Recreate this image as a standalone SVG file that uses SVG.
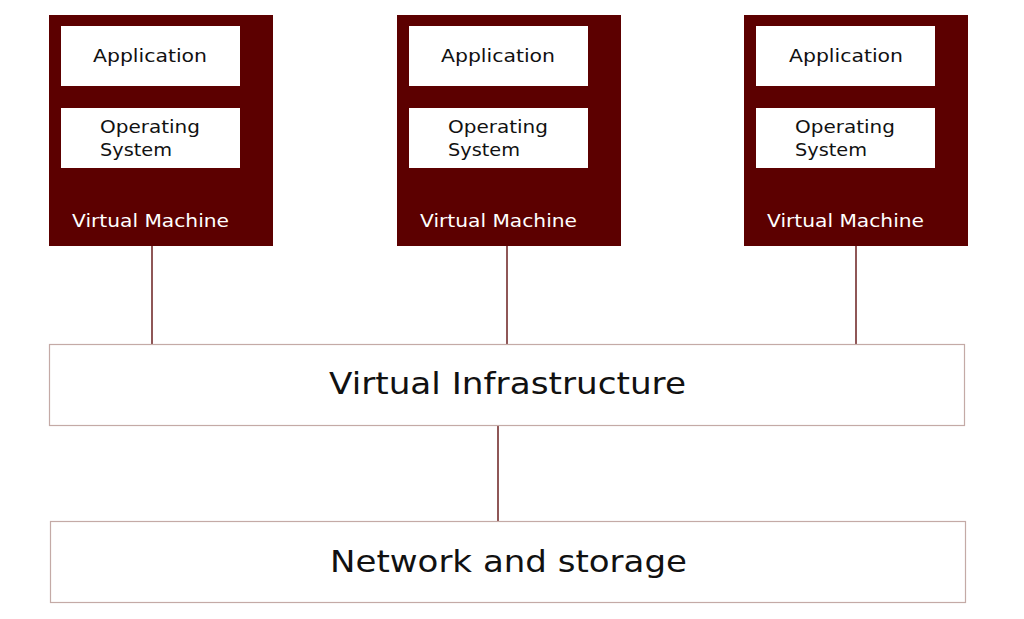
<svg xmlns="http://www.w3.org/2000/svg" width="1024" height="619" viewBox="0 0 1024 619">
<style>
.vm{fill:#5c0000}
.inner{fill:#ffffff}
.lbl{font-family:"DejaVu Sans","Noto Sans",sans-serif;font-size:18px;fill:#111}
.vmlbl{font-family:"DejaVu Sans","Noto Sans",sans-serif;font-size:18px;fill:#ffffff}
.big{fill:#ffffff;stroke:#c4aaa6;stroke-width:1.2}
.bigt{font-family:"DejaVu Sans","Noto Sans",sans-serif;font-size:30px;fill:#111;text-anchor:middle}
.conn{stroke:#6a1f1f;stroke-width:1.5;fill:none}
</style>
<rect width="1024" height="619" fill="#ffffff"/>
<g id="connectors">
<line class="conn" x1="152" y1="246" x2="152" y2="344"/>
<line class="conn" x1="507" y1="246" x2="507" y2="344"/>
<line class="conn" x1="856" y1="246" x2="856" y2="344"/>
<line class="conn" x1="498" y1="425" x2="498" y2="521"/>
</g>
<g id="vm1">
<rect class="vm" x="49" y="15" width="224" height="231"/>
<rect class="inner" x="61" y="26" width="179" height="60"/>
<text class="lbl" x="93" y="62" textLength="114" lengthAdjust="spacingAndGlyphs">Application</text>
<rect class="inner" x="61" y="108" width="179" height="60"/>
<text class="lbl" x="100" y="133" textLength="100" lengthAdjust="spacingAndGlyphs">Operating</text>
<text class="lbl" x="100" y="156" textLength="72" lengthAdjust="spacingAndGlyphs">System</text>
<text class="vmlbl" x="72" y="227" textLength="157" lengthAdjust="spacingAndGlyphs">Virtual Machine</text>
</g>
<g id="vm2">
<rect class="vm" x="397" y="15" width="224" height="231"/>
<rect class="inner" x="409" y="26" width="179" height="60"/>
<text class="lbl" x="441" y="62" textLength="114" lengthAdjust="spacingAndGlyphs">Application</text>
<rect class="inner" x="409" y="108" width="179" height="60"/>
<text class="lbl" x="448" y="133" textLength="100" lengthAdjust="spacingAndGlyphs">Operating</text>
<text class="lbl" x="448" y="156" textLength="72" lengthAdjust="spacingAndGlyphs">System</text>
<text class="vmlbl" x="420" y="227" textLength="157" lengthAdjust="spacingAndGlyphs">Virtual Machine</text>
</g>
<g id="vm3">
<rect class="vm" x="744" y="15" width="224" height="231"/>
<rect class="inner" x="756" y="26" width="179" height="60"/>
<text class="lbl" x="789" y="62" textLength="114" lengthAdjust="spacingAndGlyphs">Application</text>
<rect class="inner" x="756" y="108" width="179" height="60"/>
<text class="lbl" x="795" y="133" textLength="100" lengthAdjust="spacingAndGlyphs">Operating</text>
<text class="lbl" x="795" y="156" textLength="72" lengthAdjust="spacingAndGlyphs">System</text>
<text class="vmlbl" x="767" y="227" textLength="157" lengthAdjust="spacingAndGlyphs">Virtual Machine</text>
</g>
<g id="virtual-infrastructure">
<rect class="big" x="49.5" y="344.5" width="915" height="81"/>
<text class="bigt" x="507.5" y="394" textLength="357" lengthAdjust="spacingAndGlyphs">Virtual Infrastructure</text>
</g>
<g id="network-storage">
<rect class="big" x="50.5" y="521.5" width="915" height="81"/>
<text class="bigt" x="508.5" y="572" textLength="357" lengthAdjust="spacingAndGlyphs">Network and storage</text>
</g>
</svg>
